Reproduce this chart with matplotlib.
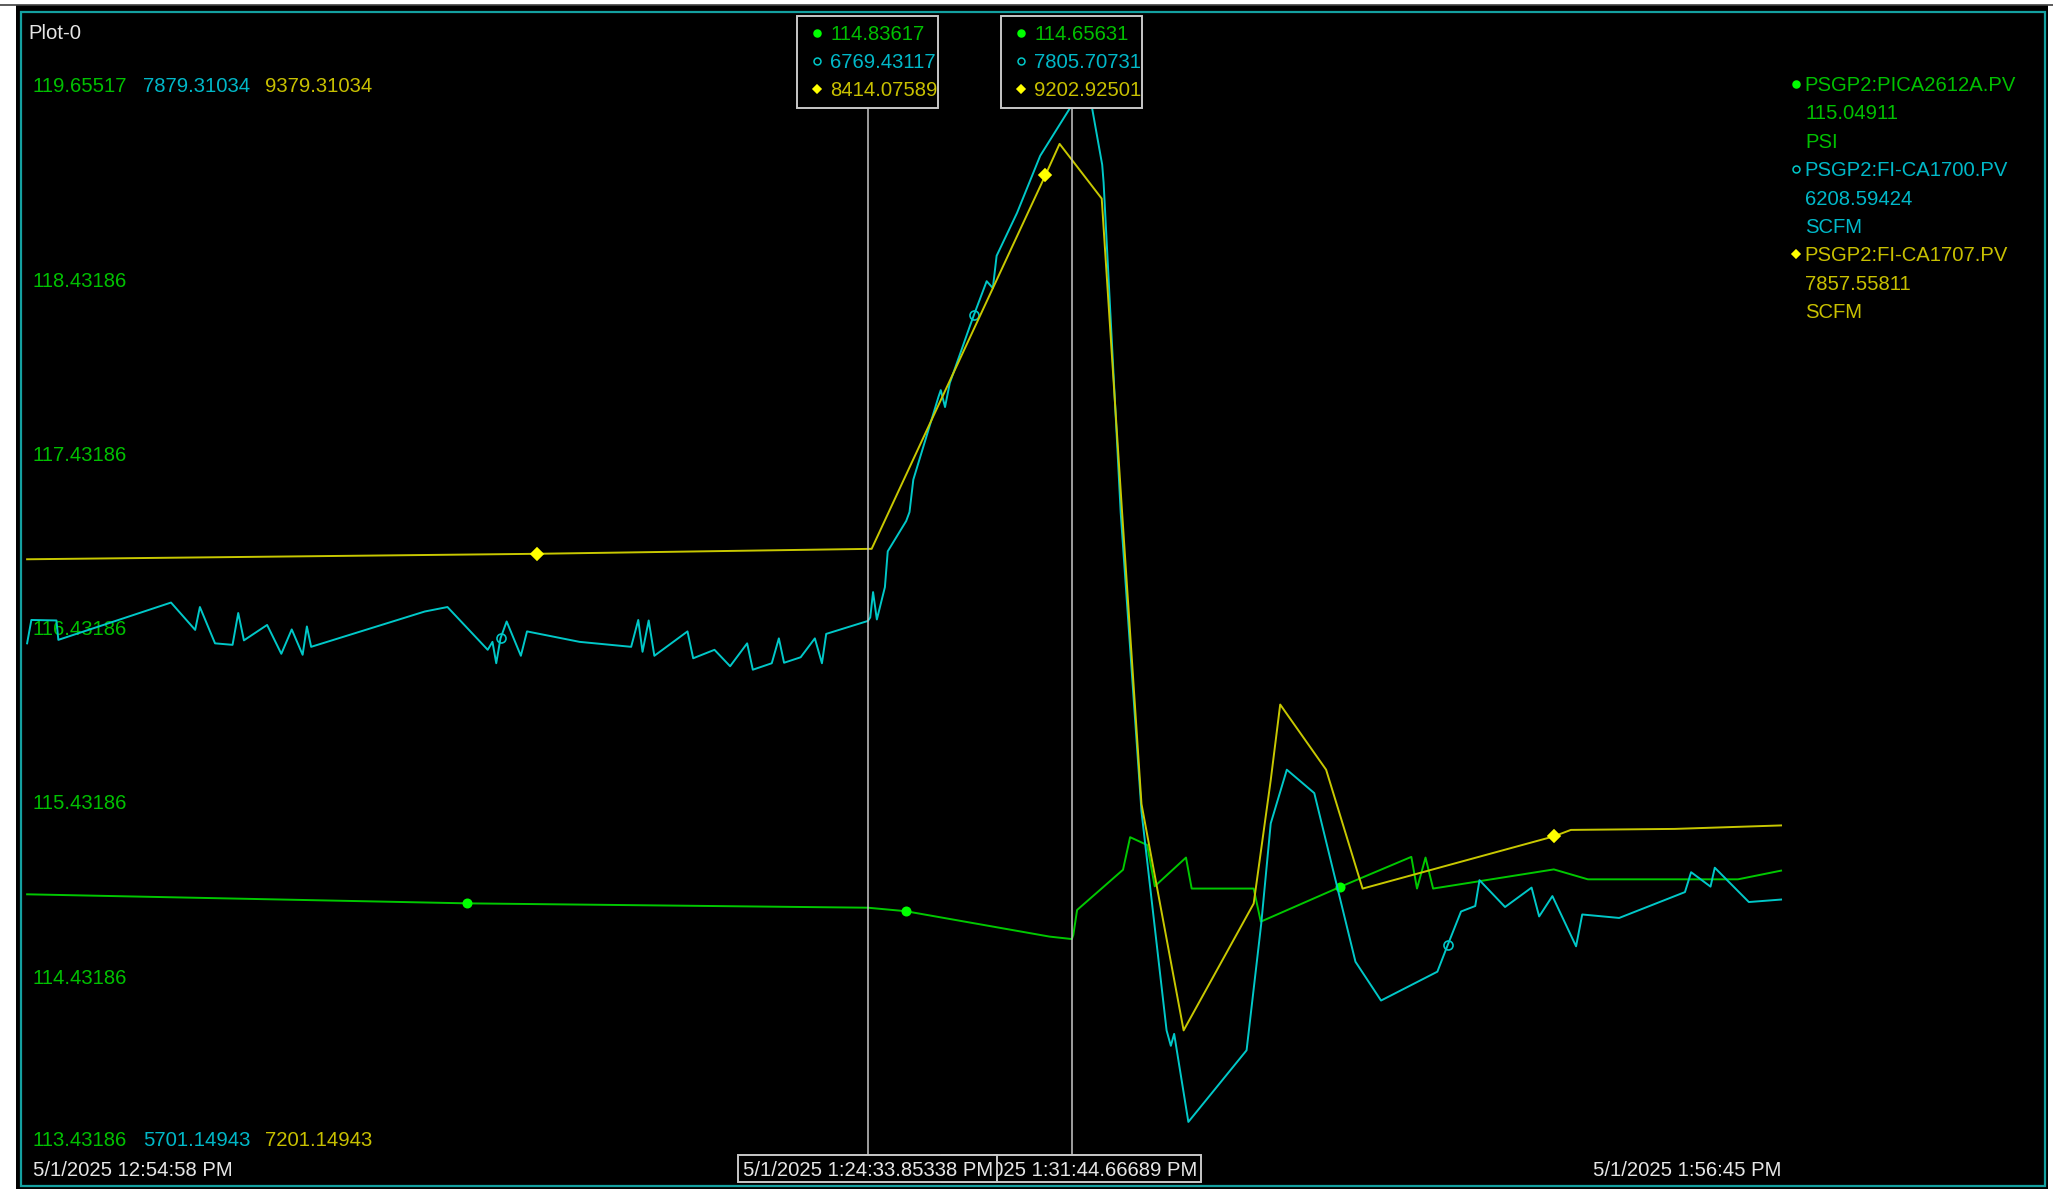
import matplotlib
matplotlib.use("Agg")
import matplotlib.pyplot as plt
from matplotlib.patches import Rectangle
from matplotlib.lines import Line2D
import pandas as pd

plt.rcParams['font.family'] = ['Liberation Sans', 'DejaVu Sans']

DATE = "5/1/2025"
START = "12:54:58 PM"
END = "1:56:45 PM"
CURSORS = ["1:24:33.85338 PM", "1:31:44.66689 PM"]

TAGS = ["PSGP2:PICA2612A.PV", "PSGP2:FI-CA1700.PV", "PSGP2:FI-CA1707.PV"]
UNITS = ["PSI", "SCFM", "SCFM"]
LAST = ["115.04911", "6208.59424", "7857.55811"]
SCALE_MIN = [113.43186, 5701.14943, 7201.14943]
SCALE_MAX = [119.65517, 7879.31034, 9379.31034]
PSI_GRID = [114.43186, 115.43186, 116.43186, 117.43186, 118.43186]
CURSOR_VALUES = [["114.83617", "6769.43117", "8414.07589"],
                 ["114.65631", "7805.70731", "9202.92501"]]

# trend samples, seconds after START
psi_t = [0, 930, 1776, 1856, 2160, 2207, 2210, 2218, 2315, 2330,
         2366, 2382, 2412, 2448, 2460, 2591, 2606, 2774, 2924, 2936,
         2954, 2970, 3225, 3297, 3614, 3705]
psi_v = [114.913, 114.861, 114.836, 114.816, 114.670, 114.656, 114.680, 114.823, 115.054, 115.241,
         115.196, 114.959, 115.034, 115.124, 114.946, 114.946, 114.756, 114.956, 115.128, 114.946,
         115.124, 114.946, 115.056, 114.999, 114.999, 115.049]
psi_marks = [930, 1856, 2774]

fi1700_t = [0, 9, 62, 66, 304, 355, 365, 397, 434, 446,
            458, 507, 537, 559, 582, 591, 600, 840, 888, 973,
            983, 991, 1000, 1013, 1043, 1056, 1167, 1276, 1291, 1300,
            1313, 1325, 1395, 1407, 1452, 1485, 1521, 1533, 1573, 1588,
            1599, 1634, 1664, 1679, 1688, 1776, 1781, 1787, 1795, 1812,
            1818, 1857, 1864, 1872, 1925, 1930, 1939, 1949, 1992, 2000,
            2027, 2040, 2048, 2091, 2140, 2207, 2229, 2250, 2271, 2274,
            2310, 2354, 2407, 2416, 2423, 2453, 2576, 2607, 2627, 2661,
            2719, 2806, 2860, 2979, 3001, 3029, 3059, 3068, 3122, 3178,
            3194, 3222, 3272, 3285, 3363, 3502, 3515, 3556, 3565, 3637,
            3705]
fi1700_v = [6724, 6771, 6770, 6731, 6806, 6751, 6797, 6724, 6721, 6785,
            6730, 6761, 6703, 6752, 6701, 6758, 6717, 6788, 6797, 6711,
            6727, 6684, 6734, 6768, 6699, 6748, 6727, 6717, 6771, 6707,
            6770, 6699, 6748, 6694, 6711, 6678, 6724, 6671, 6684, 6734,
            6685, 6696, 6734, 6684, 6743, 6769, 6776, 6827, 6772, 6837,
            6909, 6970, 6988, 7053, 7219, 7233, 7199, 7247, 7363, 7384,
            7452, 7438, 7503, 7589, 7704, 7806, 7846, 7798, 7686, 7650,
            6988, 6386, 5946, 5915, 5939, 5762, 5906, 6161, 6362, 6470,
            6423, 6084, 6006, 6064, 6118, 6185, 6196, 6248, 6194, 6233,
            6175, 6216, 6115, 6179, 6172, 6224, 6264, 6235, 6273, 6204,
            6209]
fi1700_marks = [1000, 2000, 3001]

fi1707_t = [0, 1077, 1784, 2151, 2181, 2270, 2313, 2354, 2443, 2591,
            2627, 2647, 2744, 2821, 3225, 3261, 3480, 3705]
fi1707_v = [8393, 8404, 8414, 9165, 9228, 9118, 8488, 7901, 7446, 7701,
            7949, 8101, 7970, 7731, 7836, 7849, 7851, 7858]
fi1707_marks = [1077, 2151, 3225]

W, H = 2053, 1189
FS = 14.6
TEXT_COLORS = ['#00C000', '#00B8C8', '#C8C000']
LINE_COLORS = ['#00C800', '#00C8C8', '#C8C800']
MARK_COLORS = ['#00FF00', '#00C8C8', '#FFFF00']
MARKERS = ['o', 'o', 'D']
GREY = '#C8C8C8'
TEAL = '#14A0A0'


def fx(px):
    return px / W


def fy(py):
    return 1 - py / H


def clock_seconds(s):
    fmt = "%I:%M:%S.%f %p" if "." in s else "%I:%M:%S %p"
    return pd.to_datetime(s, format=fmt)


t0 = clock_seconds(START)
t_end = (clock_seconds(END) - t0).total_seconds()
cursor_t = [(clock_seconds(c) - t0).total_seconds() for c in CURSORS]

fig = plt.figure(figsize=(W / 100, H / 100), dpi=100, facecolor='white')
fig.add_artist(Rectangle((fx(16), fy(1189)), fx(2048) - fx(16), fy(5) - fy(1189),
                         transform=fig.transFigure, facecolor='black',
                         edgecolor='none', zorder=-10))
fig.add_artist(Line2D([fx(0), fx(W)], [fy(5), fy(5)], transform=fig.transFigure,
                      color='#404040', lw=1.2, zorder=-9))

ax_left, ax_right, ax_top, ax_bottom = 27.1, 1782.0, 68.6, 1152.2
ax_psi = fig.add_axes([fx(ax_left), fy(ax_bottom), fx(ax_right) - fx(ax_left),
                       fy(ax_top) - fy(ax_bottom)])
ax_c = ax_psi.twinx()
ax_y = ax_psi.twinx()
axes = [ax_psi, ax_c, ax_y]
ax_psi.set_xlim(0, t_end)
for ax, lo, hi in zip(axes, SCALE_MIN, SCALE_MAX):
    ax.set_ylim(lo, hi)
    ax.set_axis_off()
    ax.patch.set_visible(False)

series = [(psi_t, psi_v, psi_marks), (fi1700_t, fi1700_v, fi1700_marks),
          (fi1707_t, fi1707_v, fi1707_marks)]
for i, (ax, (t, v, marks)) in enumerate(zip(axes, series)):
    idx = [t.index(m) for m in marks]
    ax.plot(t, v, color=LINE_COLORS[i], lw=1.4, marker=MARKERS[i], markevery=idx,
            ms=6.5 if i == 1 else 6, mfc='none' if i == 1 else MARK_COLORS[i],
            mec=MARK_COLORS[i], mew=1.2, clip_on=False)

# green scale labels at their values
for g in PSI_GRID:
    ax_psi.text(0.0032, g, f"{g:.5f}", transform=ax_psi.get_yaxis_transform(),
                color=TEXT_COLORS[0], fontsize=FS, ha='left', va='center', zorder=5)

# scale min / max rows
for i, x in enumerate([32.7, 142.7, 264.5]):
    fig.text(fx(x), fy(92), f"{SCALE_MAX[i]:.5f}", color=TEXT_COLORS[i], fontsize=FS,
             ha='left', va='baseline')
    fig.text(fx(x), fy(1145.5), f"{SCALE_MIN[i]:.5f}", color=TEXT_COLORS[i], fontsize=FS,
             ha='left', va='baseline')

fig.text(fx(28.8), fy(39), "Plot-0", color='#E6E6E6', fontsize=FS, ha='left', va='baseline')
fig.text(fx(32.7), fy(1176), f"{DATE} {START}", color='#E6E6E6', fontsize=FS,
         ha='left', va='baseline')
fig.text(fx(ax_right - 1), fy(1176), f"{DATE} {END}", color='#E6E6E6', fontsize=FS,
         ha='right', va='baseline')

# legend on the right
for i in range(3):
    base = 91 + 28.4 * 3 * i
    fig.add_artist(Line2D([fx(1796)], [fy(base - 7.3)], transform=fig.transFigure,
                          marker=MARKERS[i], ms=5 if i != 2 else 4.5, lw=0,
                          mfc='none' if i == 1 else MARK_COLORS[i], mec=MARK_COLORS[i],
                          mew=1.1))
    fig.text(fx(1804.3), fy(base), TAGS[i], color=TEXT_COLORS[i], fontsize=FS,
             ha='left', va='baseline')
    fig.text(fx(1805.5), fy(base + 28.4), LAST[i], color=TEXT_COLORS[i], fontsize=FS,
             ha='left', va='baseline')
    fig.text(fx(1805.5), fy(base + 56.8), UNITS[i], color=TEXT_COLORS[i], fontsize=FS,
             ha='left', va='baseline')

# cursors
cx = [ax_psi.transData.transform((t, SCALE_MIN[0]))[0] for t in cursor_t]
box_top, box_bot = 15.5, 107.7
tb_top, tb_bot, tb_half = 1154.8, 1182.3, 129.5
for k in range(2):
    x = cx[k]
    fig.add_artist(Line2D([fx(x), fx(x)], [fy(box_bot), fy(tb_top)],
                          transform=fig.transFigure, color=GREY, lw=1.1, zorder=4))
    fig.add_artist(Rectangle((fx(x - 70.5), fy(box_bot)), 141 / W, (box_bot - box_top) / H,
                             transform=fig.transFigure, facecolor='black',
                             edgecolor=GREY, lw=1.4, zorder=6))
    for i in range(3):
        base = 40 + 28 * i
        fig.add_artist(Line2D([fx(x - 51)], [fy(base - 7.3)], transform=fig.transFigure,
                              marker=MARKERS[i], ms=5 if i != 2 else 4.5, lw=0,
                              mfc='none' if i == 1 else MARK_COLORS[i],
                              mec=MARK_COLORS[i], mew=1.1, zorder=7))
        fig.text(fx(x - 37.5), fy(base), CURSOR_VALUES[k][i], color=TEXT_COLORS[i],
                 fontsize=FS, ha='left', va='baseline', zorder=7)

# time boxes at the bottom, the first drawn over the second
for k in [1, 0]:
    x = cx[k]
    z = 8 if k == 1 else 10
    fig.add_artist(Rectangle((fx(x - tb_half), fy(tb_bot)), 2 * tb_half / W,
                             (tb_bot - tb_top) / H, transform=fig.transFigure,
                             facecolor='black', edgecolor=GREY, lw=1.4, zorder=z))
    fig.text(fx(x), fy(1176), f"{DATE} {CURSORS[k]}", color='#E6E6E6', fontsize=FS,
             ha='center', va='baseline', zorder=z + 1)

fig.add_artist(Rectangle((fx(21), fy(1186)), fx(2045) - fx(21), fy(12) - fy(1186),
                         transform=fig.transFigure, fill=False, edgecolor=TEAL,
                         lw=1.6, zorder=20))

fig.savefig("out.png", dpi=100, facecolor='white')
